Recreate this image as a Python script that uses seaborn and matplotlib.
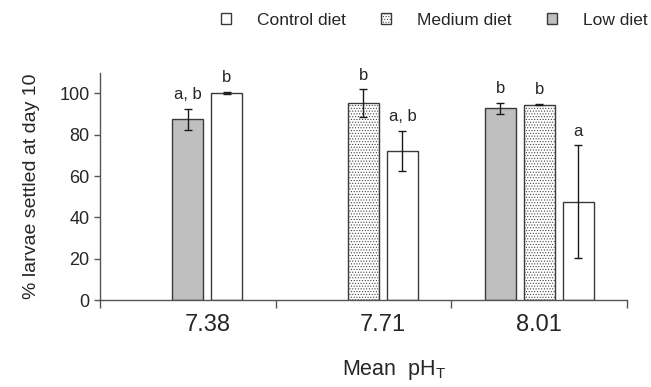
import matplotlib
matplotlib.use("Agg")
from matplotlib import pyplot as plt
from matplotlib.patches import Patch
import numpy as np
import pandas as pd
import seaborn as sns

PH_GROUPS = ["7.38", "7.71", "8.01"]
DIETS = ["Low diet", "Medium diet", "Control diet"]

ph = ["7.38", "7.38", "7.71", "7.71", "8.01", "8.01", "8.01"]
diet = ["Low diet", "Control diet", "Medium diet", "Control diet",
        "Low diet", "Medium diet", "Control diet"]
settled = [87.4, 100.0, 95.2, 72.1, 92.7, 94.5, 47.6]
err = [5.0, 0.5, 6.7, 9.8, 2.8, 0.3, 27.2]
letters = ["a, b", "b", "b", "a, b", "b", "b", "a"]

SLOT = 0.222   # spacing between neighbouring bars (category units)

sns.set_theme(style="white")
plt.rcParams["font.family"] = ["Liberation Sans", "DejaVu Sans"]
plt.rcParams["hatch.linewidth"] = 0.45
TXT = "#262626"
EDGE = "#3a3a3a"
DOTS = "......"

df = pd.DataFrame({"ph": ph, "diet": diet, "settled": settled, "err": err, "letter": letters})
df["grp"] = df["ph"].map({p: i for i, p in enumerate(PH_GROUPS)})
df["rank"] = df.groupby("ph").cumcount()
df["n"] = df.groupby("ph")["ph"].transform("size")
# bars fill the right-hand slots of a three-slot group
df["xpos"] = df["grp"] + (df["rank"] + (len(DIETS) - df["n"]) - 1) * SLOT

fig, ax = plt.subplots(figsize=(6.51, 3.87), dpi=100)
fig.subplots_adjust(left=0.1536, right=0.963, bottom=0.2248, top=0.812)

palette = {"Low diet": "#bfbfbf", "Medium diet": "white", "Control diet": "white"}
sns.barplot(data=df, x="xpos", y="settled", hue="diet", hue_order=DIETS,
            native_scale=True, dodge=False, width=0.795, palette=palette,
            edgecolor=EDGE, linewidth=1.0, errorbar=None, legend=False, ax=ax)

for cont, d in zip(ax.containers, DIETS):
    if d == "Medium diet":
        for bar in cont:
            bar.set_hatch(DOTS)

ax.errorbar(df["xpos"], df["settled"], yerr=df["err"], fmt="none",
            ecolor="#1a1a1a", elinewidth=1, capsize=3, capthick=1)

for _, r in df.iterrows():
    ax.annotate(r["letter"], (r["xpos"], r["settled"] + r["err"]), xytext=(0, 5),
                textcoords="offset points", ha="center", va="bottom",
                fontsize=12, color=TXT)

ax.set_ylim(0, 110)
ax.set_yticks(np.arange(0, 101, 20))
ax.set_xlim(-0.5, len(PH_GROUPS) - 0.5)
# group labels sit under the middle of each group's bars
ax.set_xticks(df.groupby("grp")["xpos"].mean().values)
ax.set_xticklabels(PH_GROUPS)
ax.set_xticks(np.arange(len(PH_GROUPS) + 1) - 0.5, minor=True)
ax.tick_params(axis="x", which="major", length=0, labelsize=17, pad=10, colors=TXT)
ax.tick_params(axis="x", which="minor", length=6, width=1, color="#555555", bottom=True)
ax.tick_params(axis="y", length=4.5, width=1, color="#555555", labelsize=13,
               labelcolor=TXT, left=True, pad=3)

for s in ["top", "right"]:
    ax.spines[s].set_visible(False)
for s in ["left", "bottom"]:
    ax.spines[s].set_color("#555555")
    ax.spines[s].set_linewidth(1)

ax.set_ylabel("% larvae settled at day 10", fontsize=14, color=TXT, labelpad=14)
ax.set_xlabel(r"Mean  pH$_\mathregular{T}$", fontsize=15.5, color=TXT)
ax.xaxis.set_label_coords(0.558, -0.255)

handles = [
    Patch(facecolor="white", edgecolor=EDGE, label="Control diet"),
    Patch(facecolor="white", edgecolor=EDGE, hatch=DOTS, label="Medium diet"),
    Patch(facecolor="#bfbfbf", edgecolor=EDGE, label="Low diet"),
]
fig.legend(handles=handles, loc="center", bbox_to_anchor=(0.667, 0.948), ncol=3,
           frameon=False, fontsize=12.5, handlelength=0.6, handleheight=0.6,
           columnspacing=2.0, handletextpad=1.5, labelcolor=TXT, borderpad=0)

fig.savefig("out.png", dpi=100)
